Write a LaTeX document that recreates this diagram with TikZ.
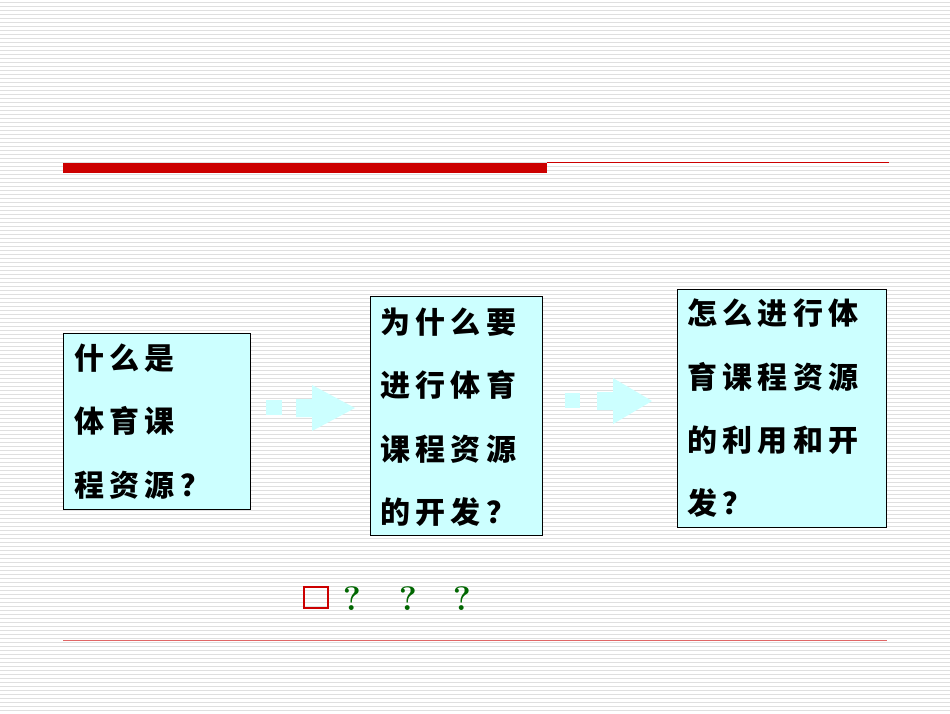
\documentclass[tikz,border=0pt]{standalone}
\usepackage{fontspec}
\newfontfamily\cjk[LetterSpace=18]{Noto Sans CJK SC}
\definecolor{boxfill}{HTML}{CCFFFF}
\definecolor{arrowc}{HTML}{CCFFFF}
\definecolor{redbar}{HTML}{CC0000}
\definecolor{qgreen}{HTML}{006600}
\begin{document}
\begin{tikzpicture}[x=1pt,y=-1pt,
  qbox/.style={draw=black,line width=0.8pt,fill=boxfill},
  line/.style={anchor=west,inner sep=0pt,font=\cjk\bfseries\fontsize{30}{30}\selectfont}]
\useasboundingbox (0,0) rectangle (950,713);
\fill[white] (0,0) rectangle (950,713);
\foreach \y in {2,6,...,712} \draw[gray!25,line width=1pt] (0,\y) -- (950,\y);
% top bar
\draw[redbar,line width=0.6pt] (547,162) -- (889,162);
\fill[redbar] (63,163) rectangle (547,173);
\draw[redbar!60,line width=0.6pt] (63,640) -- (887,640);
% boxes
\path[qbox] (63,333) rectangle (250,509);
\path[qbox] (370,296) rectangle (542,535);
\path[qbox] (677,289) rectangle (886,527);
% arrows
\fill[arrowc] (266,400) rectangle (282,415);
\fill[arrowc] (296,399) -- (312,399) -- (312,385) -- (355,408) -- (312,431) -- (312,417) -- (296,417) -- cycle;
\fill[arrowc] (565,393) rectangle (580,408);
\fill[arrowc] (597,392) -- (613,392) -- (613,378) -- (652,401) -- (613,424) -- (613,410) -- (597,410) -- cycle;
% texts
\node[line] (a1) at (74,358) {什么是};
\node[line] (a2) at (74,421) {体育课};
\node[line] (a3) at (74,485) {程资源？};
\node[line] (b1) at (380,322) {为什么要};
\node[line] (b2) at (380,385) {进行体育};
\node[line] (b3) at (380,449) {课程资源};
\node[line] (b4) at (380,512) {的开发？};
\node[line] (c1) at (687,313) {怎么进行体};
\node[line] (c2) at (687,377) {育课程资源};
\node[line] (c3) at (687,440) {的利用和开};
\node[line] (c4) at (687,503) {发？};
% bottom marks
\draw[redbar,line width=2.5pt] (304,587) rectangle (328,608);
\foreach \x in {352,408,462} \node[text=qgreen,font=\bfseries\fontsize{34}{34}\selectfont] at (\x,599) {?};
\end{tikzpicture}
\end{document}
